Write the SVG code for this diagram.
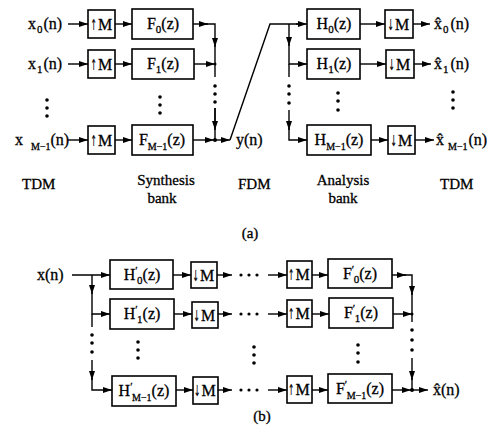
<svg xmlns="http://www.w3.org/2000/svg" width="490" height="437" viewBox="0 0 490 437" font-family="'Liberation Serif','Times New Roman',serif">
<defs>
<marker id="ah" viewBox="0 0 9 6" refX="9" refY="3" markerWidth="9" markerHeight="6" markerUnits="userSpaceOnUse" orient="auto"><path d="M0,0 L9,3 L0,6 z" fill="#000"/></marker>
<style>
.ln{stroke:#000;stroke-width:1.4;fill:none}
.ar{stroke:#000;stroke-width:1.4;fill:none;marker-end:url(#ah)}
.bx{fill:#fff;stroke:#000;stroke-width:1.6}
text{font-family:"Liberation Serif","Times New Roman",serif;font-size:16px;fill:#000;stroke:#000;stroke-width:0.3}
.lb{font-size:15px}
.sb{font-size:11px}
.sm{font-size:10px}
.c{text-anchor:middle}
.dt{fill:#000}
.aw{font-family:"DejaVu Sans",sans-serif;font-size:15px;stroke-width:0.2}
</style>
</defs>
<rect width="490" height="437" fill="#fff"/>

<g id="connectors">
<path class="ar" d="M68,24 H88"/>
<path class="ar" d="M115,24 H132"/>
<path class="ar" d="M193,24 H208"/>
<path class="ar" d="M206,24 H215 V47"/>
<path class="ln" d="M215,45 V77"/>
<path class="ar" d="M68,64 H88"/>
<path class="ar" d="M115,64 H132"/>
<path class="ar" d="M194,64 H215"/>
<path class="ln" d="M215,108 V140"/>
<path class="ar" d="M215,108 V130"/>
<path class="ar" d="M68,140 H88"/>
<path class="ar" d="M115,140 H132"/>
<path class="ar" d="M193,140 H214"/>
<path class="ar" d="M215,140 H230"/>
<path class="ln" d="M230,140 L270,24 H300"/>
<path class="ar" d="M296,24 H307"/>
<path class="ar" d="M289,24 V46"/>
<path class="ar" d="M289,44 V64 H307"/>
<path class="ln" d="M289,64 V77"/>
<path class="ar" d="M289,110 V130"/>
<path class="ar" d="M289,128 V140 H307"/>
<path class="ar" d="M360,24 H385"/>
<path class="ar" d="M413,24 H430"/>
<path class="ar" d="M360,64 H386"/>
<path class="ar" d="M414,64 H431"/>
<path class="ar" d="M371,140 H388"/>
<path class="ar" d="M415,140 H434"/>
<circle class="dt" cx="215" cy="140" r="2"/>
<circle class="dt" cx="215" cy="64" r="1.5"/>
<path class="ar" d="M72,275 H110"/>
<path class="ar" d="M92,275 V294"/>
<path class="ar" d="M92,292 V314 H110"/>
<path class="ln" d="M92,314 V327"/>
<path class="ar" d="M92,360 V380"/>
<path class="ar" d="M92,378 V390 H112"/>
<path class="ar" d="M173,275 H191"/>
<path class="ar" d="M217,275 H232"/>
<path class="ar" d="M268,275 H287"/>
<path class="ar" d="M312,275 H328"/>
<path class="ar" d="M392,275 H406"/>
<path class="ar" d="M404,275 H412 V295"/>
<path class="ln" d="M412,293 V322"/>
<path class="ar" d="M174,314 H192"/>
<path class="ar" d="M218,314 H232"/>
<path class="ar" d="M268,314 H287"/>
<path class="ar" d="M312,314 H329"/>
<path class="ar" d="M393,314 H412"/>
<path class="ar" d="M412,358 V380"/>
<path class="ln" d="M412,378 V390"/>
<path class="ar" d="M176,390 H193"/>
<path class="ar" d="M218,390 H232"/>
<path class="ar" d="M268,390 H287"/>
<path class="ar" d="M312,390 H328"/>
<path class="ar" d="M392,390 H411"/>
<path class="ar" d="M412,390 H428"/>
<circle class="dt" cx="412" cy="390" r="2"/>
<circle class="dt" cx="412" cy="314" r="1.5"/>
</g>

<g id="dots">
<circle class="dt" cx="47" cy="100" r="1.8"/><circle class="dt" cx="47" cy="108" r="1.8"/><circle class="dt" cx="47" cy="116" r="1.8"/>
<circle class="dt" cx="160" cy="97" r="1.8"/><circle class="dt" cx="160" cy="105" r="1.8"/><circle class="dt" cx="160" cy="113" r="1.8"/>
<circle class="dt" cx="215" cy="86" r="1.8"/><circle class="dt" cx="215" cy="94" r="1.8"/><circle class="dt" cx="215" cy="102" r="1.8"/>
<circle class="dt" cx="289" cy="86" r="1.8"/><circle class="dt" cx="289" cy="94" r="1.8"/><circle class="dt" cx="289" cy="103" r="1.8"/>
<circle class="dt" cx="338" cy="93" r="1.8"/><circle class="dt" cx="338" cy="101" r="1.8"/><circle class="dt" cx="338" cy="110" r="1.8"/>
<circle class="dt" cx="453" cy="92" r="1.8"/><circle class="dt" cx="453" cy="100" r="1.8"/><circle class="dt" cx="453" cy="108" r="1.8"/>
<circle class="dt" cx="92" cy="335" r="1.8"/><circle class="dt" cx="92" cy="343" r="1.8"/><circle class="dt" cx="92" cy="352" r="1.8"/>
<circle class="dt" cx="138" cy="342" r="1.8"/><circle class="dt" cx="138" cy="350" r="1.8"/><circle class="dt" cx="138" cy="358" r="1.8"/>
<circle class="dt" cx="254" cy="347" r="1.8"/><circle class="dt" cx="254" cy="355" r="1.8"/><circle class="dt" cx="254" cy="363" r="1.8"/>
<circle class="dt" cx="358" cy="345" r="1.8"/><circle class="dt" cx="358" cy="353" r="1.8"/><circle class="dt" cx="358" cy="362" r="1.8"/>
<circle class="dt" cx="412" cy="330" r="1.8"/><circle class="dt" cx="412" cy="340" r="1.8"/><circle class="dt" cx="412" cy="350" r="1.8"/>
<circle class="dt" cx="241" cy="275" r="1.6"/><circle class="dt" cx="249" cy="275" r="1.6"/><circle class="dt" cx="257" cy="275" r="1.6"/>
<circle class="dt" cx="241" cy="314" r="1.6"/><circle class="dt" cx="249" cy="314" r="1.6"/><circle class="dt" cx="257" cy="314" r="1.6"/>
<circle class="dt" cx="241" cy="390" r="1.6"/><circle class="dt" cx="249" cy="390" r="1.6"/><circle class="dt" cx="257" cy="390" r="1.6"/>
</g>

<g id="x0"><text x="28" y="29">x<tspan class="sb" dx="1" dy="4">0</tspan><tspan dx="1" dy="-4">(n)</tspan></text></g>
<g id="x1"><text x="28" y="69">x<tspan class="sb" dx="1" dy="4">1</tspan><tspan dx="1" dy="-4">(n)</tspan></text></g>
<g id="xM1"><text x="15" y="145">x<tspan class="sm" dx="8" dy="5">M−1</tspan><tspan dx="0" dy="-5">(n)</tspan></text></g>
<g id="yn"><text x="236" y="145">y(n)</text></g>
<g id="xh0"><text x="434" y="29">x̂<tspan class="sb" dx="1" dy="4">0</tspan><tspan dx="2" dy="-4">(n)</tspan></text></g>
<g id="xh1"><text x="434" y="69">x̂<tspan class="sb" dx="1" dy="4">1</tspan><tspan dx="2" dy="-4">(n)</tspan></text></g>
<g id="xhM1"><text x="436" y="145">x̂<tspan class="sm" dx="4" dy="5">M−1</tspan><tspan dx="1" dy="-5">(n)</tspan></text></g>

<g id="up0"><rect class="bx" x="88" y="10" width="27" height="28"/><text class="aw" transform="translate(90.5,30) scale(0.5,1)">↑</text><text x="98" y="30">M</text></g>
<g id="up1"><rect class="bx" x="88" y="50" width="27" height="28"/><text class="aw" transform="translate(90.5,70) scale(0.5,1)">↑</text><text x="98" y="70">M</text></g>
<g id="upM1"><rect class="bx" x="88" y="126" width="27" height="28"/><text class="aw" transform="translate(90.5,146) scale(0.5,1)">↑</text><text x="98" y="146">M</text></g>
<g id="F0"><rect class="bx" x="132" y="9" width="61" height="30"/><text class="c" x="163" y="29">F<tspan class="sb" dy="4">0</tspan><tspan dy="-4">(z)</tspan></text></g>
<g id="F1"><rect class="bx" x="132" y="49" width="62" height="30"/><text class="c" x="163" y="69">F<tspan class="sb" dy="4">1</tspan><tspan dy="-4">(z)</tspan></text></g>
<g id="FM1"><rect class="bx" x="132" y="125" width="61" height="30"/><text class="c" x="162" y="145">F<tspan class="sm" dy="5">M−1</tspan><tspan dy="-5">(z)</tspan></text></g>

<g id="H0"><rect class="bx" x="307" y="9" width="53" height="30"/><text class="c" x="334" y="29">H<tspan class="sb" dy="4">0</tspan><tspan dy="-4">(z)</tspan></text></g>
<g id="H1"><rect class="bx" x="307" y="49" width="53" height="30"/><text class="c" x="334" y="69">H<tspan class="sb" dy="4">1</tspan><tspan dy="-4">(z)</tspan></text></g>
<g id="HM1"><rect class="bx" x="307" y="125" width="64" height="30"/><text class="c" x="339" y="145">H<tspan class="sm" dy="5">M−1</tspan><tspan dy="-5">(z)</tspan></text></g>
<g id="dn0"><rect class="bx" x="385" y="10" width="28" height="28"/><text class="aw" transform="translate(387.5,30) scale(0.5,1)">↓</text><text x="395" y="30">M</text></g>
<g id="dn1"><rect class="bx" x="386" y="50" width="28" height="28"/><text class="aw" transform="translate(388.5,70) scale(0.5,1)">↓</text><text x="396" y="70">M</text></g>
<g id="dnM1"><rect class="bx" x="388" y="126" width="27" height="28"/><text class="aw" transform="translate(390.5,146) scale(0.5,1)">↓</text><text x="398" y="146">M</text></g>

<g id="labels-a">
<text class="lb" x="22" y="189">TDM</text>
<text class="lb c" x="166" y="185">Synthesis</text>
<text class="lb c" x="162" y="203">bank</text>
<text class="lb" x="238" y="189">FDM</text>
<text class="lb c" x="343" y="185">Analysis</text>
<text class="lb c" x="343" y="203">bank</text>
<text class="lb" x="440" y="189">TDM</text>
<text class="lb c" x="250" y="238">(a)</text>
</g>

<g id="xn"><text x="37" y="280">x(n)</text></g>
<g id="xhn"><text x="433" y="395">x̂(n)</text></g>

<g id="Hp0"><rect class="bx" x="110" y="260" width="63" height="29"/><text class="c" x="142" y="280">H<tspan class="sb" dy="-6">′</tspan><tspan class="sb" dx="-0.5" dy="10">0</tspan><tspan dy="-4">(z)</tspan></text></g>
<g id="Hp1"><rect class="bx" x="110" y="299" width="64" height="30"/><text class="c" x="142" y="319">H<tspan class="sb" dy="-6">′</tspan><tspan class="sb" dx="-0.5" dy="10">1</tspan><tspan dy="-4">(z)</tspan></text></g>
<g id="HpM1"><rect class="bx" x="112" y="376" width="64" height="30"/><text class="c" x="144" y="396">H<tspan class="sb" dy="-6">′</tspan><tspan class="sm" dx="-0.5" dy="11">M−1</tspan><tspan dy="-5">(z)</tspan></text></g>

<g id="dnb0"><rect class="bx" x="191" y="262" width="26" height="26"/><text class="aw" transform="translate(192.5,281) scale(0.5,1)">↓</text><text x="200" y="281">M</text></g>
<g id="dnb1"><rect class="bx" x="192" y="302" width="26" height="26"/><text class="aw" transform="translate(193.5,321) scale(0.5,1)">↓</text><text x="201" y="321">M</text></g>
<g id="dnbM1"><rect class="bx" x="193" y="377" width="25" height="27"/><text class="aw" transform="translate(194,396) scale(0.5,1)">↓</text><text x="201.5" y="396">M</text></g>

<g id="upb0"><rect class="bx" x="287" y="261" width="25" height="27"/><text class="aw" transform="translate(288,280) scale(0.5,1)">↑</text><text x="295.5" y="280">M</text></g>
<g id="upb1"><rect class="bx" x="287" y="300" width="25" height="27"/><text class="aw" transform="translate(288,319) scale(0.5,1)">↑</text><text x="295.5" y="319">M</text></g>
<g id="upbM1"><rect class="bx" x="287" y="376" width="25" height="27"/><text class="aw" transform="translate(288,395) scale(0.5,1)">↑</text><text x="295.5" y="395">M</text></g>

<g id="Fp0"><rect class="bx" x="328" y="259" width="64" height="29"/><text class="c" x="360" y="279">F<tspan class="sb" dy="-6">′</tspan><tspan class="sb" dx="-0.5" dy="10">0</tspan><tspan dy="-4">(z)</tspan></text></g>
<g id="Fp1"><rect class="bx" x="329" y="298" width="64" height="30"/><text class="c" x="361" y="318">F<tspan class="sb" dy="-6">′</tspan><tspan class="sb" dx="-0.5" dy="10">1</tspan><tspan dy="-4">(z)</tspan></text></g>
<g id="FpM1"><rect class="bx" x="328" y="374" width="64" height="29"/><text class="c" x="360" y="394">F<tspan class="sb" dy="-6">′</tspan><tspan class="sm" dx="-0.5" dy="11">M−1</tspan><tspan dy="-5">(z)</tspan></text></g>

<g id="labels-b"><text class="lb c" x="262" y="421">(b)</text></g>
</svg>
